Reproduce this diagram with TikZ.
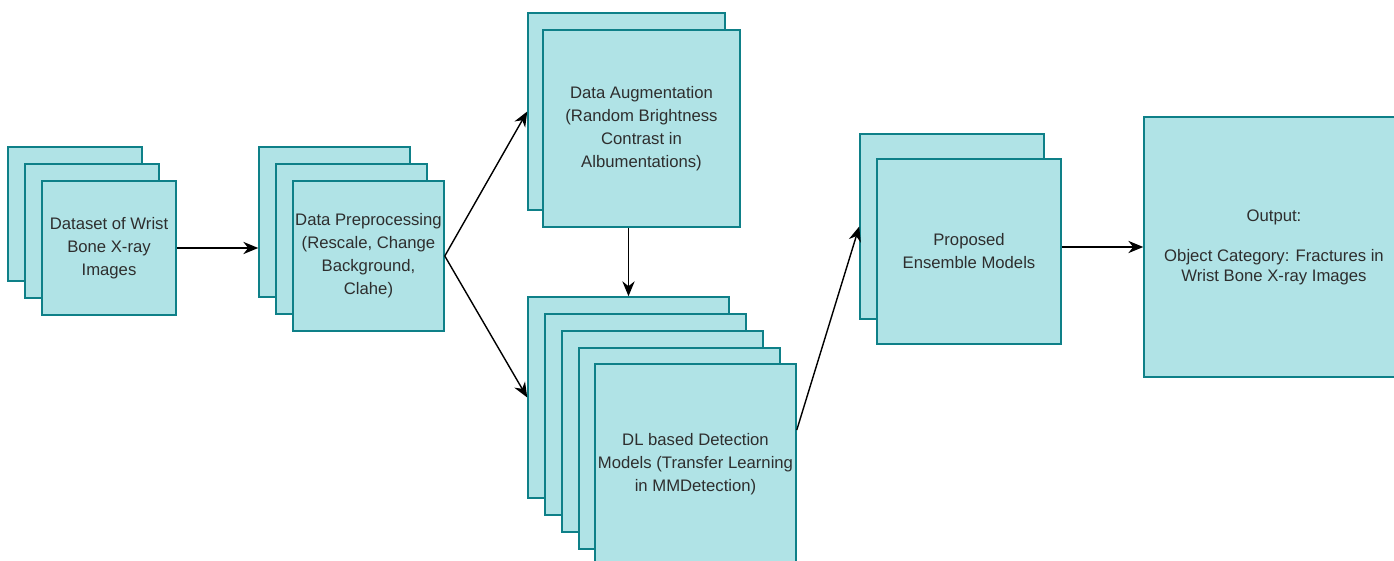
\documentclass[tikz,border=0pt]{standalone}
\usepackage{fontspec}
\setmainfont{Liberation Sans}
\usetikzlibrary{arrows.meta, positioning}
\definecolor{tealfill}{HTML}{B0E3E6}
\definecolor{tealline}{HTML}{0E8088}
\definecolor{txtgray}{HTML}{2E2E2E}

\begin{document}
\begin{tikzpicture}[x=0.02cm, y=-0.02cm,
    layer/.style={draw=tealline, fill=tealfill, line width=0.9pt, inner sep=0pt, align=center, text=txtgray, font=\fontsize{9.5}{13.1}\selectfont},
    arrow/.style={-{Stealth[length=8.5pt, width=7pt]}, line width=0.8pt, black}]
\path[use as bounding box, clip] (0,0) rectangle (1394,561);

% dataset stack
\node[layer, minimum size=2.68cm] (data1) at (75,214) {};
\node[layer, minimum size=2.68cm] (data2) at ([shift={(17,17)}]data1) {};
\node[layer, minimum size=2.68cm] (data3) at ([shift={(17,17)}]data2) {Dataset of Wrist\\Bone X-ray\\Images};

% preprocessing stack
\node[layer, minimum width=3.02cm, minimum height=3cm] (prep1) at (334.5,222) {};
\node[layer, minimum width=3.02cm, minimum height=3cm] (prep2) at ([shift={(17,17)}]prep1) {};
\node[layer, minimum width=3.02cm, minimum height=3cm] (prep3) at ([shift={(17,17)}]prep2) {Data Preprocessing\\(Rescale, Change\\Background,\\Clahe)};

% augmentation stack
\node[layer, minimum size=3.94cm] (aug1) at (626.5,111.5) {};
\node[layer, minimum size=3.94cm] (aug2) at ([shift={(15,17)}]aug1) {Data Augmentation\\(Random Brightness\\Contrast in\\Albumentations)};

% detection models stack
\node[layer, minimum size=4.02cm] (dl1) at (628.5,397.5) {};
\foreach \i [count=\j from 2] in {1,2,3} {
    \node[layer, minimum size=4.02cm] (dl\j) at ([shift={(17,17)}]dl\i) {};
}
\node[layer, minimum size=4.02cm] (dl5) at ([shift={(16,16)}]dl4) {DL based Detection\\Models (Transfer Learning\\in MMDetection)};

% ensemble stack
\node[layer, minimum width=3.68cm, minimum height=3.7cm] (ens1) at (952,226.5) {};
\node[layer, minimum width=3.68cm, minimum height=3.7cm] (ens2) at ([shift={(17,25)}]ens1) {Proposed\\Ensemble Models};

% output
\node[layer, minimum size=5.2cm, font=\fontsize{9.5}{11.4}\selectfont] (out) at (1274,247) {Output:\\[11.4pt]Object Category: Fractures in\\Wrist Bone X-ray Images};

\draw[arrow] (data3.east) -- (data3.east -| prep1.west);
\draw[arrow] (prep3.east) -- (aug1.west);
\draw[arrow] (prep3.east) -- (dl1.west);
\draw[arrow] (aug2.south -| dl1.north) -- (dl1.north);
\draw[arrow] ([yshift=0.69cm]dl5.east) -- (ens1.west);
\draw[arrow] (out.west -| ens2.east) -- (out.west);
\end{tikzpicture}
\end{document}
